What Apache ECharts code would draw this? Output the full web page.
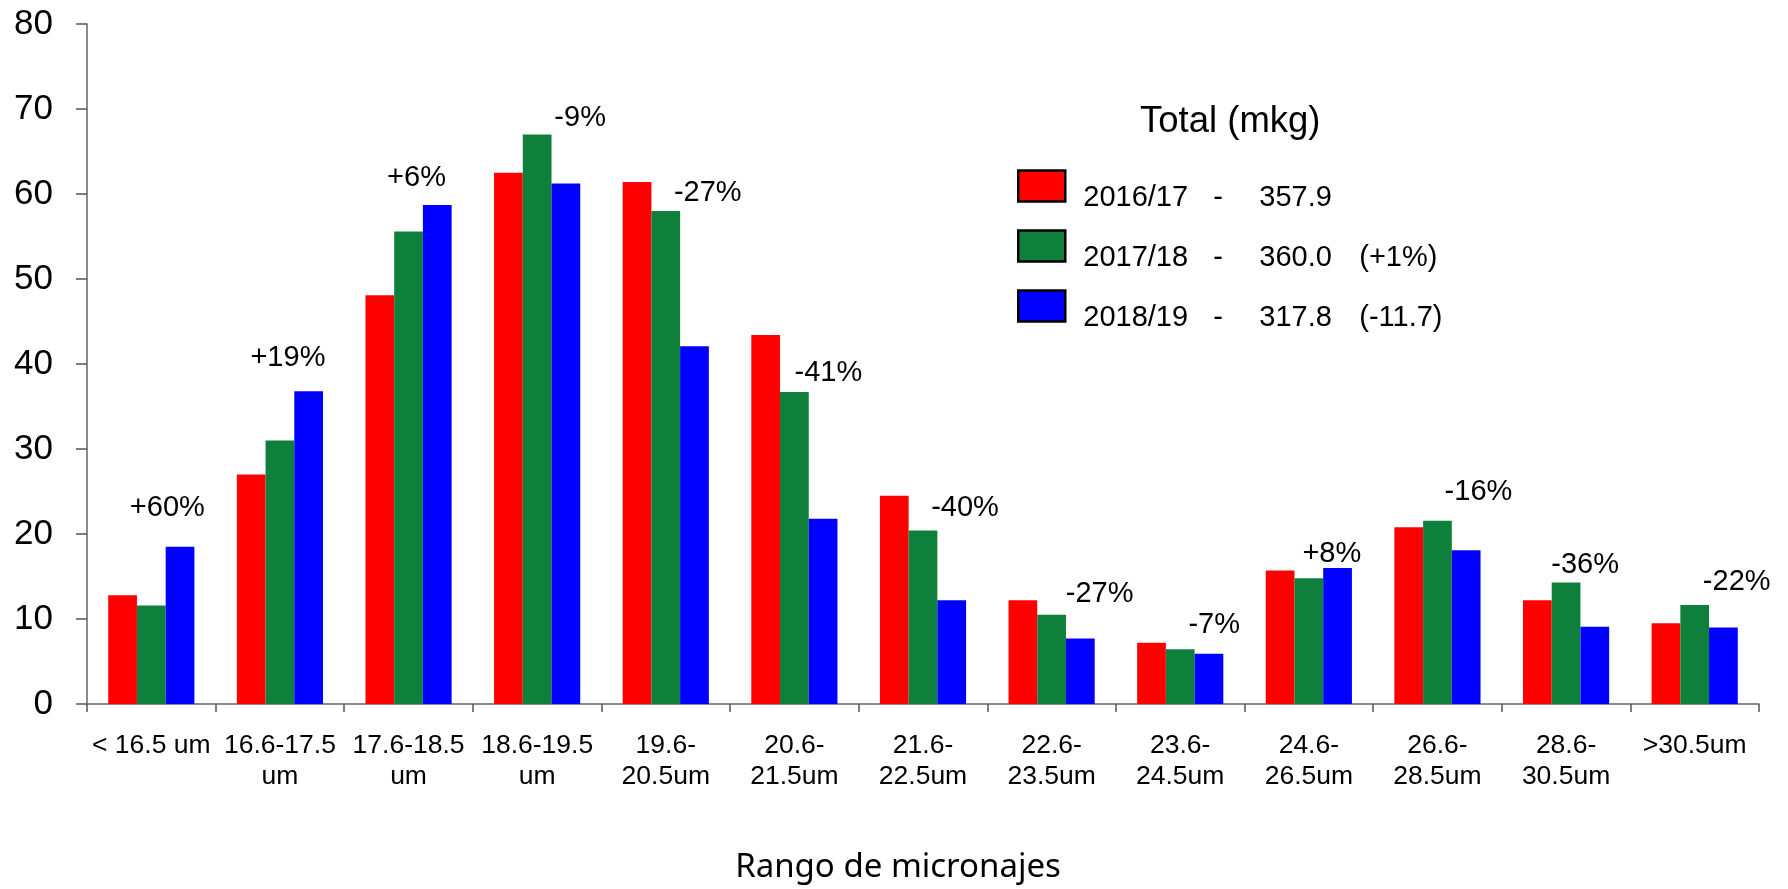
<!DOCTYPE html>
<html>
<head>
<meta charset="utf-8">
<title>Rango de micronajes</title>
<script src="https://cdn.jsdelivr.net/npm/echarts@6/dist/echarts.min.js"></script>
<style>
  html, body { margin: 0; padding: 0; background: #fff; }
  #chart { width: 1788px; height: 889px; }
</style>
</head>
<body>
<div id="chart"></div>
<script>
const categories = [
    '< 16.5 um', '16.6-17.5\num', '17.6-18.5\num', '18.6-19.5\num',
    '19.6-\n20.5um', '20.6-\n21.5um', '21.6-\n22.5um', '22.6-\n23.5um',
    '23.6-\n24.5um', '24.6-\n26.5um', '26.6-\n28.5um', '28.6-\n30.5um', '>30.5um'
];
const seasons = ['2016/17', '2017/18', '2018/19'];
const totals = ['357.9', '360.0', '317.8'];
const totalChange = ['', '(+1%)', '(-11.7)'];

const values1617 = [12.8, 27.0, 48.1, 62.5, 61.4, 43.4, 24.5, 12.2, 7.2, 15.7, 20.8, 12.2, 9.5];
const values1718 = [11.6, 31.0, 55.6, 67.0, 58.0, 36.7, 20.4, 10.5, 6.45, 14.8, 21.55, 14.3, 11.65];
const values1819 = [18.5, 36.8, 58.7, 61.25, 42.1, 21.8, 12.2, 7.7, 5.9, 16.0, 18.1, 9.1, 9.0];

// variación 2018/19 vs 2017/18 y altura (en unidades del eje) donde está escrita
const changeText = ['+60%', '+19%', '+6%', '-9%', '-27%', '-41%', '-40%', '-27%', '-7%', '+8%', '-16%', '-36%', '-22%'];
const changeAt = [23.1, 40.7, 61.9, 68.9, 60.1, 39.0, 23.1, 13.0, 9.3, 17.7, 25.0, 16.3, 14.4];
// desplazamiento horizontal del texto respecto al centro del grupo (px)
const changeShift = [16, 8, 8, 43, 42, 34, 42, 48, 34, 23, 41, 19, 42];

const colors = ['#ff0000', '#0e803c', '#0000ff'];
const font = 'Liberation Sans, Arial, sans-serif';

const barSeries = [values1617, values1718, values1819].map((vals, i) => ({
    name: seasons[i],
    type: 'bar',
    data: vals,
    barGap: '0%',
    barCategoryGap: '33%',
    itemStyle: { color: colors[i] },
    silent: true
}));

const labelSeries = {
    type: 'scatter',
    symbolSize: 1,
    itemStyle: { color: 'rgba(0,0,0,0)' },
    silent: true,
    z: 5,
    data: changeAt.map((v, i) => ({
        value: [i, v],
        label: {
            show: true,
            position: 'inside',
            offset: [changeShift[i], 0],
            formatter: changeText[i],
            color: '#000',
            opacity: 1,
            textBorderWidth: 0,
            fontFamily: font,
            fontSize: 29
        }
    }))
};

const txt = { fontFamily: font, fontSize: 29, color: '#000', verticalAlign: 'bottom' };

const option = {
    animation: false,
    backgroundColor: '#fff',
    color: colors,
    title: {
        text: 'Total (mkg)',
        left: 1140,
        top: 103,
        padding: 0,
        textStyle: { fontFamily: font, fontSize: 36.5, fontWeight: 'normal', color: '#000' }
    },
    legend: {
        orient: 'vertical',
        left: 1017,
        top: 160,
        padding: 0,
        itemWidth: 47,
        itemHeight: 31,
        itemGap: 8,
        icon: 'rect',
        data: seasons,
        itemStyle: { borderColor: '#000', borderWidth: 2.5 },
        selectedMode: false,
        textStyle: {
            fontFamily: font,
            fontSize: 29,
            color: '#000',
            rich: {
                s: { width: 13, lineHeight: 52, height: 52 },
                y: Object.assign({ width: 130 }, txt),
                d: Object.assign({ width: 46 }, txt),
                v: Object.assign({ width: 100 }, txt),
                p: Object.assign({}, txt)
            }
        },
        formatter: name => {
            const i = seasons.indexOf(name);
            return '{s|}{y|' + name + '}{d|-}{v|' + totals[i] + '}{p|' + totalChange[i] + '}';
        }
    },
    grid: { left: 87, right: 29, top: 24, bottom: 175, containLabel: false },
    xAxis: {
        type: 'category',
        data: categories,
        name: 'Rango de micronajes',
        nameLocation: 'middle',
        nameGap: 147,
        nameTextStyle: {
            fontFamily: 'Noto Sans, sans-serif',
            fontSize: 33,
            color: '#000',
            padding: [0, 50, 0, 0]
        },
        axisLine: { lineStyle: { color: '#666', width: 1.5 } },
        axisTick: { show: true, length: 8, lineStyle: { color: '#555', width: 1.5 } },
        axisLabel: {
            interval: 0,
            margin: 26,
            fontFamily: font,
            fontSize: 26.5,
            lineHeight: 31,
            color: '#000'
        },
        splitLine: { show: false }
    },
    yAxis: {
        type: 'value',
        min: 0,
        max: 80,
        interval: 10,
        axisLine: { show: true, lineStyle: { color: '#666', width: 1.5 } },
        axisTick: { show: true, inside: false, length: 11, lineStyle: { color: '#555', width: 1.5 } },
        axisLabel: { margin: 34, fontFamily: font, fontSize: 35, color: '#000' },
        splitLine: { show: false }
    },
    series: [...barSeries, labelSeries]
};

const chart = echarts.init(document.getElementById('chart'));
chart.setOption(option);
</script>
</body>
</html>
